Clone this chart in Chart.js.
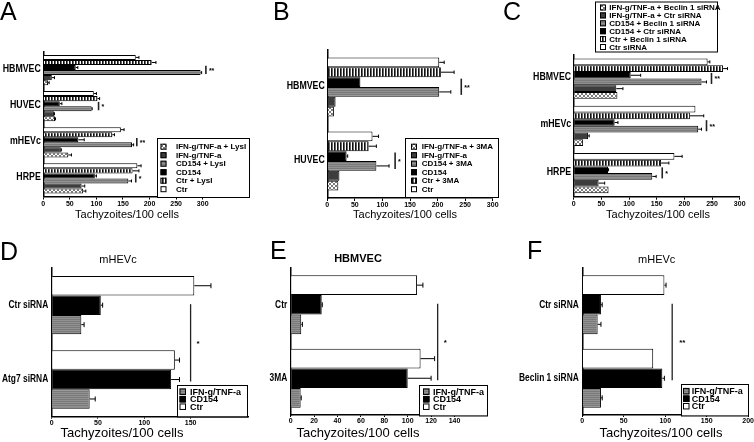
<!DOCTYPE html>
<html>
<head>
<meta charset="utf-8">
<script src="https://cdn.jsdelivr.net/npm/chart.js@4.4.0/dist/chart.umd.min.js"></script>
<style>
  html, body { margin: 0; padding: 0; background: #fff; }
  #page { position: relative; width: 754px; height: 442px; overflow: hidden; }
  #page canvas { position: absolute; }
</style>
</head>
<body>
<div id="page">
  <canvas id="chartA" width="250" height="225" style="left:0;top:0"></canvas>
  <canvas id="chartB" width="250" height="225" style="left:250px;top:0"></canvas>
  <canvas id="chartC" width="254" height="225" style="left:500px;top:0"></canvas>
  <canvas id="chartD" width="250" height="217" style="left:0;top:225px"></canvas>
  <canvas id="chartE" width="250" height="217" style="left:250px;top:225px"></canvas>
  <canvas id="chartF" width="254" height="217" style="left:500px;top:225px"></canvas>
</div>
<script>
// ---- data ----
var axisTitle = "Tachyzoites/100 cells";

// A
var catsA = ["HBMVEC", "HUVEC", "mHEVc", "HRPE"];
var seriesA = ["Ctr", "Ctr + LysI", "CD154", "CD154 + LysI", "IFN-g/TNF-a", "IFN-g/TNF-a + LysI"];
var valsA = [[174, 95, 146, 177], [204, 102, 130, 168], [61, 31, 66, 97], [296, 91, 167, 160], [16, 20, 33, 72], [9, 22, 47, 75]];
var semA = [[6, 5, 6, 7], [8, 4, 4, 12], [4, 4, 11, 3], [2, 1, 3, 6], [5, 1, 1, 6], [2, 1, 6, 5]];
var sigA = [306, 104, 176, 174];
var starsA = ["**", "*", "**", "*"];
var ticksA = [0, 50, 100, 150, 200, 250, 300];

// B
var catsB = ["HBMVEC", "HUVEC"];
var seriesB = ["Ctr", "Ctr + 3MA", "CD154", "CD154 + 3MA", "IFN-g/TNF-a", "IFN-g/TNF-a + 3MA"];
var valsB = [[203, 82], [206, 75], [60, 35], [203, 89], [15, 22], [12, 20]];
var semB = [[9, 11], [24, 14], [0, 2], [21, 23], [0, 0], [0, 0]];
var sigB = [243, 123];
var starsB = ["**", "*"];
var ticksB = [0, 50, 100, 150, 200, 250, 300];

// C
var catsC = ["HBMVEC", "mHEVc", "HRPE"];
var seriesC = ["Ctr siRNA", "Ctr + Beclin 1 siRNA", "CD154 + Ctr siRNA", "CD154 + Beclin 1 siRNA", "IFN-g/TNF-a + Ctr siRNA", "IFN-g/TNF-a + Beclin 1 siRNA"];
var valsC = [[242, 220, 182], [270, 210, 158], [103, 74, 62], [231, 225, 142], [77, 26, 45], [79, 17, 63]];
var semC = [[4, 0, 14], [8, 25, 14], [18, 6, 1], [9, 6, 7], [12, 2, 11], [0, 0, 0]];
var sigC = [249, 240, 160];
var starsC = ["**", "**", "*"];
var ticksC = [0, 50, 100, 150, 200, 250, 300];

// D, E, F
var seriesLow = ["Ctr", "CD154", "IFN-g/TNF-a"];
var catsD = ["Ctr siRNA", "Atg7 siRNA"];
var valsD = [[154, 133], [53, 129], [32, 41]];
var semD = [[18, 5], [2, 9], [3, 6]];
var ticksD = [0, 50, 100, 150];

var catsE = ["Ctr", "3MA"];
var valsE = [[108, 111], [26.5, 100], [9, 8.5]];
var semE = [[5, 12], [0.5, 20], [1, 0.5]];
var ticksE = [0, 20, 40, 60, 80, 100, 120, 140];

var catsF = ["Ctr siRNA", "Beclin 1 siRNA"];
var valsF = [[99, 85.5], [22.5, 96.5], [18.5, 22.5]];
var semF = [[2, 0], [1.5, 2.5], [4, 1.5]];
var ticksF = [0, 50, 100, 150, 200];

var FONT = "'Liberation Sans', Arial, sans-serif";

// fills: plain colours and small tiled patterns
function makeFill(ctx, kind) {
  if (kind === 'white') return '#ffffff';
  if (kind === 'black') return '#000000';
  if (kind === 'dark') return '#3d3d3d';
  var c = document.createElement('canvas');
  var g = c.getContext('2d');
  if (kind === 'vstripe') {
    c.width = 3; c.height = 3;
    g.fillStyle = '#fff'; g.fillRect(0, 0, 3, 3);
    g.fillStyle = '#111'; g.fillRect(0, 0, 1, 3);
    g.fillStyle = '#666'; g.fillRect(1, 0, 1, 3);
  } else if (kind === 'hgray') {
    c.width = 2; c.height = 2;
    g.fillStyle = '#7a7a7a'; g.fillRect(0, 0, 2, 2);
    g.fillStyle = '#919191'; g.fillRect(0, 1, 2, 1);
  } else if (kind === 'check') {
    c.width = 4; c.height = 4;
    g.fillStyle = '#fff'; g.fillRect(0, 0, 4, 4);
    g.fillStyle = '#7a7a7a';
    for (var i = 0; i < 4; i++) { g.fillRect(i, i, 1, 1); g.fillRect(3 - i, i, 1, 1); }
  }
  return ctx.createPattern(c, 'repeat');
}

// error bars (right side only)
var errorBars = {
  id: 'errorBars',
  afterDatasetsDraw: function(chart) {
    var ctx = chart.ctx, xs = chart.scales.x;
    ctx.save();
    ctx.strokeStyle = '#000';
    ctx.lineWidth = 1;
    chart.data.datasets.forEach(function(ds, i) {
      chart.getDatasetMeta(i).data.forEach(function(bar, j) {
        var e = ds.sem[j];
        if (!e) return;
        var x0 = xs.getPixelForValue(ds.data[j]);
        var x1 = xs.getPixelForValue(ds.data[j] + e);
        var cap = Math.max(3, Math.min(5, bar.height * 0.35)) / 2;
        ctx.beginPath();
        ctx.moveTo(x0, bar.y); ctx.lineTo(x1, bar.y);
        ctx.moveTo(x1, bar.y - cap); ctx.lineTo(x1, bar.y + cap);
        ctx.stroke();
      });
    });
    ctx.restore();
  }
};

// significance lines and stars
var sigMarks = {
  id: 'sigMarks',
  afterDatasetsDraw: function(chart, args, o) {
    if (!o.at) return;
    var ctx = chart.ctx, xs = chart.scales.x;
    ctx.save();
    ctx.strokeStyle = '#222';
    ctx.lineWidth = o.lineWidth;
    ctx.fillStyle = '#000';
    ctx.font = 'bold ' + o.fontSize + 'px ' + FONT;
    ctx.textBaseline = 'middle';
    ctx.textAlign = 'left';
    if (o.mode === 'pair') {
      o.at.forEach(function(v, j) {
        var b1 = chart.getDatasetMeta(2).data[j], b2 = chart.getDatasetMeta(3).data[j];
        var x = xs.getPixelForValue(v);
        var y1 = b1.y - b1.height * 0.35, y2 = b2.y + b2.height * 0.3;
        ctx.beginPath(); ctx.moveTo(x, y1); ctx.lineTo(x, y2); ctx.stroke();
        ctx.fillText(o.stars[j], x + 3, (y1 + y2) / 2 + 1);
      });
    } else {
      var a = chart.getDatasetMeta(1).data[0], b = chart.getDatasetMeta(1).data[1];
      var x = xs.getPixelForValue(o.at[0]);
      ctx.beginPath(); ctx.moveTo(x, a.y - 1); ctx.lineTo(x, b.y + 2); ctx.stroke();
      ctx.fillText(o.stars[0], x + o.gap, (a.y + b.y) / 2 + 1);
    }
    ctx.restore();
  }
};

// category names, drawn a little condensed like the original narrow face
var catLabels = {
  id: 'catLabels',
  afterDraw: function(chart, args, o) {
    var ctx = chart.ctx, ys = chart.scales.y;
    var x = chart.chartArea.left - o.pad;
    ctx.save();
    ctx.fillStyle = '#000';
    ctx.font = 'bold ' + o.size + 'px ' + FONT;
    ctx.textAlign = 'right';
    ctx.textBaseline = 'middle';
    chart.data.labels.forEach(function(name, i) {
      ctx.save();
      ctx.translate(x, ys.getPixelForValue(i) + o.dy);
      ctx.scale(o.squeeze, 1);
      ctx.fillText(name, 0, 0);
      ctx.restore();
    });
    ctx.restore();
  }
};

// boxed legend, entries listed bottom series first
var boxLegend = {
  id: 'boxLegend',
  afterDraw: function(chart, args, o) {
    if (!o.box) return;
    var ctx = chart.ctx, b = o.box;
    ctx.save();
    ctx.fillStyle = '#fff';
    ctx.fillRect(b[0], b[1], b[2], b[3]);
    ctx.strokeStyle = '#000';
    ctx.lineWidth = 1;
    ctx.strokeRect(b[0] + 0.5, b[1] + 0.5, b[2], b[3]);
    var ds = chart.data.datasets.slice().reverse();
    ctx.font = 'bold ' + o.fontSize + 'px ' + FONT;
    ctx.textBaseline = 'middle';
    ctx.textAlign = 'left';
    ds.forEach(function(d, k) {
      var cy = o.firstY + k * o.step;
      var s = o.swatch;
      ctx.fillStyle = d.backgroundColor;
      ctx.fillRect(o.swatchX, cy - s / 2, s, s);
      ctx.strokeStyle = '#000';
      ctx.strokeRect(o.swatchX + 0.5, cy - s / 2 + 0.5, s - 1, s - 1);
      ctx.fillStyle = '#000';
      ctx.fillText(d.label, o.textX, cy + 0.5);
    });
    ctx.restore();
  }
};

// panel letter, panel title, axis title
var decor = {
  id: 'decor',
  afterDraw: function(chart, args, o) {
    var ctx = chart.ctx;
    ctx.save();
    ctx.fillStyle = '#000';
    ctx.textBaseline = 'alphabetic';
    ctx.textAlign = 'left';
    ctx.font = '25px ' + FONT;
    ctx.fillText(o.letter, o.letterX, o.letterY);
    ctx.textAlign = 'center';
    if (o.title) {
      ctx.font = o.titleFont;
      ctx.fillText(o.title, o.titleX, o.titleY);
    }
    ctx.font = o.axisFont;
    ctx.fillText(axisTitle, o.axisX, o.axisY);
    ctx.restore();
  }
};

function barPanel(id, p) {
  var canvas = document.getElementById(id);
  var ctx = canvas.getContext('2d');
  var datasets = p.series.map(function(name, i) {
    return {
      label: name,
      data: p.values[i],
      sem: p.sems[i],
      backgroundColor: makeFill(ctx, p.kinds[i]),
      borderColor: '#000',
      borderWidth: 1,
      categoryPercentage: p.groupFrac,
      barPercentage: 1
    };
  });
  return new Chart(canvas, {
    type: 'bar',
    data: { labels: p.cats, datasets: datasets },
    plugins: [errorBars, sigMarks, catLabels, boxLegend, decor],
    options: {
      responsive: false,
      animation: false,
      indexAxis: 'y',
      layout: { padding: { top: p.top, right: p.right, bottom: 0, left: 0 } },
      scales: {
        x: {
          min: 0,
          max: p.max,
          afterBuildTicks: function(s) { s.ticks = p.ticks.map(function(v) { return { value: v }; }); },
          afterFit: function(s) { s.height = p.xh; },
          grid: { display: true, drawOnChartArea: false, drawTicks: true, tickLength: p.tickLen, color: '#000', lineWidth: 1 },
          border: { display: true, color: '#000', width: 1.5 },
          ticks: { font: { size: 7, weight: 'bold', family: FONT }, color: '#000', padding: 0, maxRotation: 0, autoSkip: false }
        },
        y: {
          afterFit: function(s) { s.width = p.yw; },
          grid: { display: false },
          border: { display: true, color: '#000', width: 1.5 },
          ticks: { display: false }
        }
      },
      plugins: {
        legend: { display: false },
        tooltip: { enabled: false },
        sigMarks: p.sig,
        catLabels: p.catText,
        boxLegend: p.legend,
        decor: p.decor
      }
    }
  });
}

var kindsTop = ['white', 'vstripe', 'black', 'hgray', 'dark', 'check'];
var kindsLow = ['white', 'black', 'hgray'];
var topCats = { size: 11, squeeze: 0.8, pad: 2.5, dy: -1.5 };
var lowCats = { size: 10.5, squeeze: 0.8, pad: 3.5, dy: 0 };

barPanel('chartA', {
  cats: catsA, series: seriesA, values: valsA, sems: semA, kinds: kindsTop,
  ticks: ticksA, max: 300, groupFrac: 0.84,
  top: 52, right: 47.3, yw: 43.3, xh: 28.5, tickLen: 3, catText: topCats,
  sig: { mode: 'pair', at: sigA, stars: starsA, lineWidth: 1.6, fontSize: 7 },
  legend: { box: [157, 138, 92, 59], fontSize: 8, firstY: 146.7, step: 8.5, swatch: 6, swatchX: 160.5, textX: 176 },
  decor: { letter: 'A', letterX: 0, letterY: 20, axisFont: '11px ' + FONT, axisX: 127, axisY: 217.5 }
});

barPanel('chartB', {
  cats: catsB, series: seriesB, values: valsB, sems: semB, kinds: kindsTop,
  ticks: ticksB, max: 300, groupFrac: 0.8,
  top: 50, right: 7.3, yw: 77.3, xh: 27, tickLen: 3, catText: topCats,
  sig: { mode: 'pair', at: sigB, stars: starsB, lineWidth: 1.6, fontSize: 7 },
  legend: { box: [155, 138, 93, 59], fontSize: 8, firstY: 146.7, step: 8.5, swatch: 6, swatchX: 161, textX: 171.7 },
  decor: { letter: 'B', letterX: 23, letterY: 20, axisFont: '11px ' + FONT, axisX: 155, axisY: 217.5 }
});

barPanel('chartC', {
  cats: catsC, series: seriesC, values: valsC, sems: semC, kinds: kindsTop,
  ticks: ticksC, max: 300, groupFrac: 0.85,
  top: 55, right: 14.3, yw: 73.7, xh: 28.3, tickLen: 3, catText: topCats,
  sig: { mode: 'pair', at: sigC, stars: starsC, lineWidth: 1.6, fontSize: 7 },
  legend: { box: [95, 1.5, 122, 50], fontSize: 8, firstY: 7.5, step: 7.9, swatch: 6, swatchX: 100, textX: 109.3 },
  decor: { letter: 'C', letterX: 3, letterY: 20, axisFont: '11px ' + FONT, axisX: 158, axisY: 217.5 }
});

barPanel('chartD', {
  cats: catsD, series: seriesLow, values: valsD, sems: semD, kinds: kindsLow,
  ticks: ticksD, max: 212, groupFrac: 0.785,
  top: 43, right: 2, yw: 51.7, xh: 25.3, tickLen: 2, catText: lowCats,
  sig: { mode: 'span', at: [150], stars: ["*"], lineWidth: 1.3, fontSize: 8, gap: 6 },
  legend: { box: [177, 160, 70, 31.5], fontSize: 9, firstY: 166.7, step: 7.5, swatch: 6.5, swatchX: 179.5, textX: 190 },
  decor: { letter: 'D', letterX: 0, letterY: 35, title: 'mHEVc', titleFont: '11px ' + FONT, titleX: 118, titleY: 38,
           axisFont: '13px ' + FONT, axisX: 122, axisY: 212 }
});

barPanel('chartE', {
  cats: catsE, series: seriesLow, values: valsE, sems: semE, kinds: kindsLow,
  ticks: ticksE, max: 167, groupFrac: 0.8,
  top: 43, right: 13.9, yw: 40.7, xh: 27, tickLen: 2, catText: lowCats,
  sig: { mode: 'span', at: [125.6], stars: ["*"], lineWidth: 1.3, fontSize: 8, gap: 6 },
  legend: { box: [169, 160, 68, 30.5], fontSize: 9, firstY: 166.7, step: 7.5, swatch: 6.5, swatchX: 173, textX: 183 },
  decor: { letter: 'E', letterX: 20, letterY: 34, title: 'HBMVEC', titleFont: 'bold 11px ' + FONT, titleX: 108, titleY: 36.7,
           axisFont: '13px ' + FONT, axisX: 108, axisY: 212 }
});

barPanel('chartF', {
  cats: catsF, series: seriesLow, values: valsF, sems: semF, kinds: kindsLow,
  ticks: ticksF, max: 200, groupFrac: 0.8,
  top: 43, right: 5.7, yw: 82.3, xh: 27, tickLen: 2, catText: lowCats,
  sig: { mode: 'span', at: [108.4], stars: ["**"], lineWidth: 1.3, fontSize: 8, gap: 7 },
  legend: { box: [181, 159, 67, 31.5], fontSize: 9, firstY: 166.2, step: 7.5, swatch: 6.5, swatchX: 183, textX: 191.7 },
  decor: { letter: 'F', letterX: 27, letterY: 34, title: 'mHEVc', titleFont: '11px ' + FONT, titleX: 156.7, titleY: 38.3,
           axisFont: '13px ' + FONT, axisX: 161, axisY: 212 }
});
</script>
</body>
</html>
